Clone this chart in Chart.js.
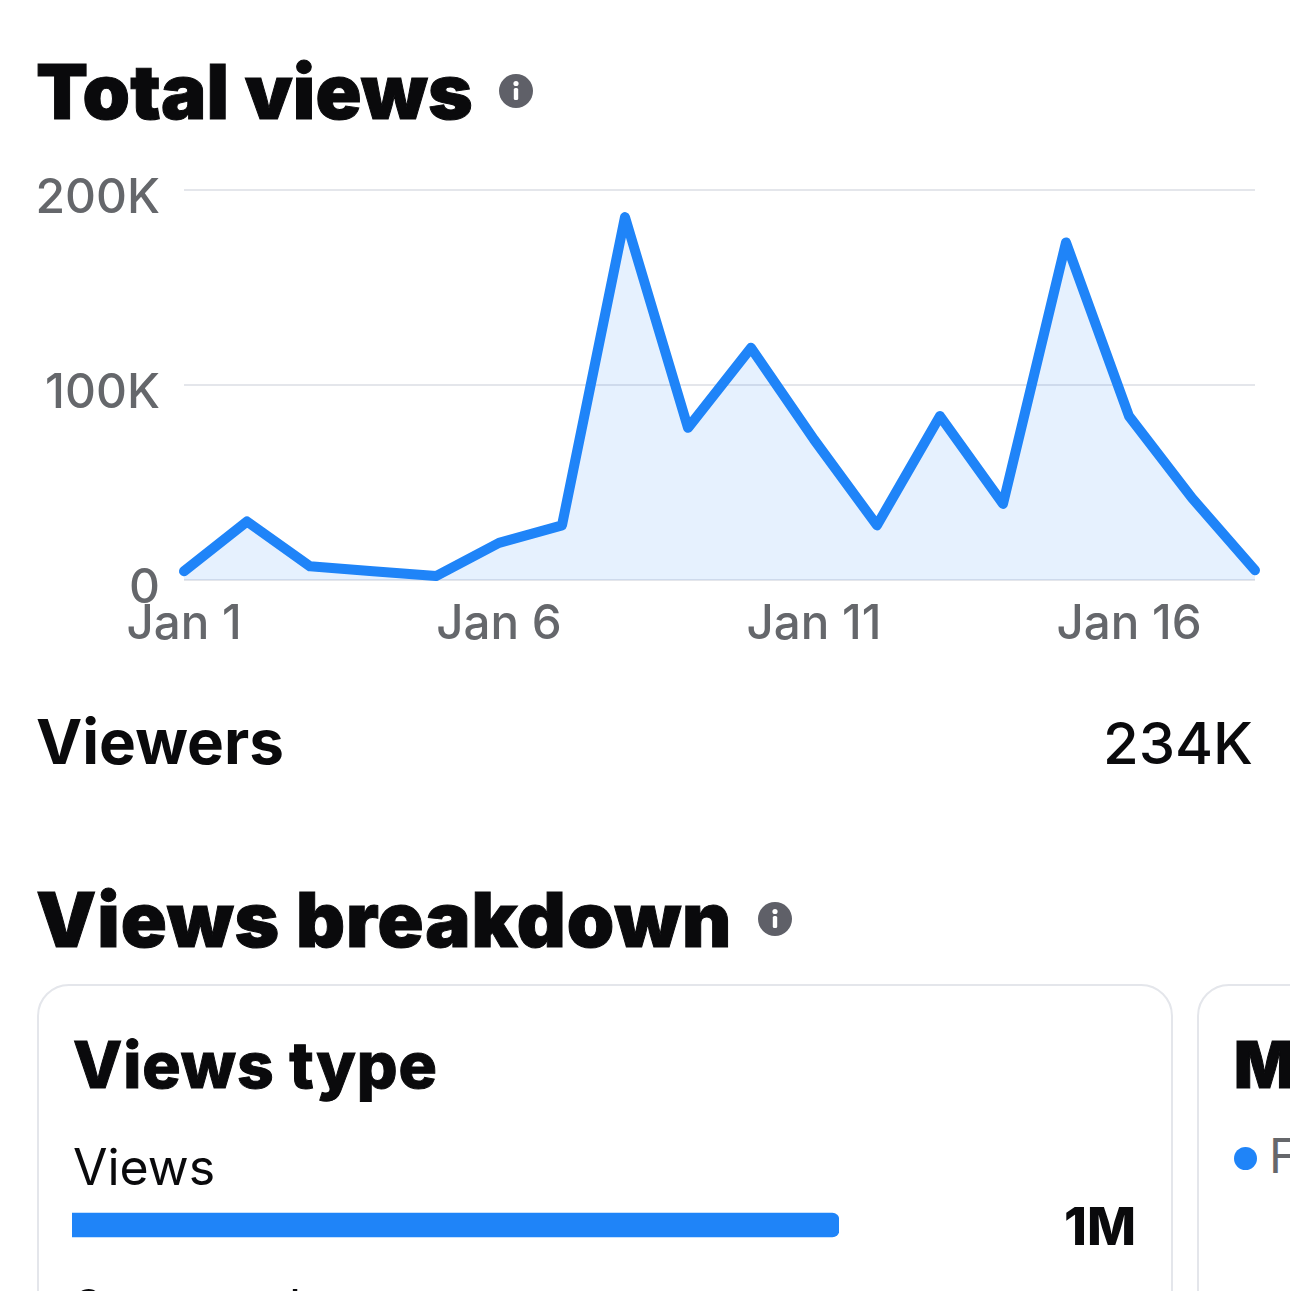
<!DOCTYPE html>
<html>
<head>
<meta charset="utf-8">
<script src="https://cdn.jsdelivr.net/npm/chart.js@4"></script>
<style>
html,body{margin:0;padding:0;background:#fff;overflow:hidden}
body{width:1290px;height:1291px;position:relative;font-family:Inter,"Noto Sans",sans-serif;color:#0a0a0c}
.t{position:absolute;white-space:nowrap;line-height:1}
.h1{font-weight:900;-webkit-text-stroke:1px #0a0a0c}
.info{position:absolute;width:34px;height:34px}
.card{position:absolute;top:984px;height:400px;border:2px solid #e4e6eb;border-radius:32px;box-sizing:border-box}
#lineWrap{position:absolute;left:0;top:137px;width:1290px;height:524px}
#barWrap{position:absolute;left:72px;top:1205px;width:767px;height:40px}
</style>
</head>
<body>
<div class="t h1" style="left:36px;top:53px;font-size:76px;letter-spacing:.2px">Total views</div>
<svg class="info" style="left:499px;top:74px" viewBox="0 0 34 34"><circle cx="17" cy="17" r="17" fill="#5f6068"/><circle cx="17" cy="9.5" r="2.6" fill="#fff"/><rect x="14.8" y="14" width="4.4" height="12" rx="1.6" fill="#fff"/></svg>
<div id="lineWrap"><canvas id="lineChart"></canvas></div>
<div class="t" style="left:36px;top:711px;font-size:62px;font-weight:700">Viewers</div>
<div class="t" style="right:37px;top:714px;font-size:58px;font-weight:500">234K</div>
<div class="t h1" style="left:36px;top:881px;font-size:76px;letter-spacing:.9px">Views breakdown</div>
<svg class="info" style="left:758px;top:902px" viewBox="0 0 34 34"><circle cx="17" cy="17" r="17" fill="#5f6068"/><circle cx="17" cy="9.5" r="2.6" fill="#fff"/><rect x="14.8" y="14" width="4.4" height="12" rx="1.6" fill="#fff"/></svg>
<div class="card" style="left:37px;width:1136px"></div>
<div class="card" style="left:1197px;width:200px"></div>
<div class="t h1" style="left:73px;top:1033px;font-size:64px;font-weight:800;letter-spacing:.9px">Views type</div>
<div class="t" style="left:1234px;top:1033px;font-size:64px;font-weight:900;-webkit-text-stroke:1px #0a0a0c">M</div>
<div style="position:absolute;left:1234px;top:1147px;width:23px;height:23px;border-radius:50%;background:#1f84f8"></div>
<div class="t" style="left:1269px;top:1132px;font-size:48px;color:#65676b">F</div>
<div class="t" style="left:73px;top:1142px;font-size:50px">Views</div>
<div id="barWrap"><canvas id="barChart"></canvas></div>
<div class="t" style="right:154px;top:1201px;font-size:52px;font-weight:800">1M</div>
<div class="t" style="left:73px;top:1283px;font-size:50px">3-second</div>
<script>
const categories=["Jan 1","Jan 2","Jan 3","Jan 4","Jan 5","Jan 6","Jan 7","Jan 8","Jan 9","Jan 10","Jan 11","Jan 12","Jan 13","Jan 14","Jan 15","Jan 16","Jan 17","Jan 18"];
const viewsValues=[4500,30000,7000,4500,2000,19000,28000,186000,78000,119000,72000,28000,84000,39000,173000,84000,42000,5000];
const yTicks=[0,100000,200000];
const yTickLabels={0:"0",100000:"100K",200000:"200K"};
const xTickShown=["Jan 1","Jan 6","Jan 11","Jan 16"];
const barCategories=["Views"];
const barValues=[1000000];
const blue="#1f84f8",grey="#65676b";

Chart.defaults.animation=false;
Chart.defaults.font.family='Inter,"Noto Sans",sans-serif';

new Chart(document.getElementById("lineChart"),{
  type:"line",
  data:{labels:categories,datasets:[{data:viewsValues,borderColor:blue,borderWidth:10,backgroundColor:"rgba(31,132,248,0.11)",fill:true,pointRadius:0,tension:0,borderJoinStyle:"round",borderCapStyle:"round",clip:false}]},
  options:{
    responsive:true,maintainAspectRatio:false,
    layout:{padding:{left:0,right:35,top:18,bottom:0}},
    plugins:{legend:{display:false},tooltip:{enabled:false}},
    scales:{
      x:{
        grid:{display:false},border:{display:false},
        ticks:{autoSkip:false,maxRotation:0,color:grey,font:{size:47.5,weight:"500"},padding:8,
          callback(v){const l=this.getLabelForValue(v);return xTickShown.includes(l)?l:"";}}
      },
      y:{
        min:0,max:200000,
        afterBuildTicks(a){a.ticks=yTicks.map(v=>({value:v}));},
        afterFit(a){a.width=184;},
        grid:{color:"#e4e6eb",lineWidth:2,drawTicks:false},border:{display:false},
        ticks:{color:grey,font:{size:48,weight:"500"},padding:24,labelOffset:9,callback(v){return yTickLabels[v];}}
      }
    }
  }
});

new Chart(document.getElementById("barChart"),{
  type:"bar",
  data:{labels:barCategories,datasets:[{data:barValues,backgroundColor:blue,barThickness:24,borderRadius:{topRight:7,bottomRight:7,topLeft:0,bottomLeft:0},borderSkipped:false}]},
  options:{
    indexAxis:"y",responsive:true,maintainAspectRatio:false,
    layout:{padding:0},
    plugins:{legend:{display:false},tooltip:{enabled:false}},
    scales:{x:{display:false,min:0,max:1000000},y:{display:false}}
  }
});
</script>
</body>
</html>
